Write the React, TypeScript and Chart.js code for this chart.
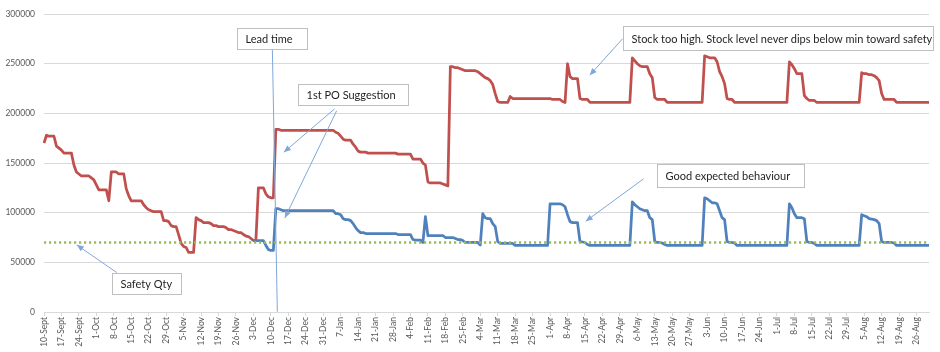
import React, { useEffect, useRef } from "react";
import { Chart, registerables } from "chart.js";

Chart.register(...registerables);

// ---- Calendar (one category per day, 10-Sept .. 31-Aug) ----
const MONTHS: [string, number][] = [
  ["Sept", 30], ["Oct", 31], ["Nov", 30], ["Dec", 31], ["Jan", 31], ["Feb", 28],
  ["Mar", 31], ["Apr", 30], ["May", 31], ["Jun", 30], ["Jul", 31], ["Aug", 31],
];
const FIRST_DAY = 10;
const categories: string[] = [];
MONTHS.forEach(([m, n], i) => {
  for (let d = i === 0 ? FIRST_DAY : 1; d <= n; d++) categories.push(`${d}-${m}`);
});

// Weekly tick labels shown on the axis
const tickLabels = [
  "10-Sept", "17-Sept", "24-Sept", "1-Oct", "8-Oct", "15-Oct", "22-Oct", "29-Oct",
  "5-Nov", "12-Nov", "19-Nov", "26-Nov", "3-Dec", "10-Dec", "17-Dec", "24-Dec",
  "31-Dec", "7-Jan", "14-Jan", "21-Jan", "28-Jan", "4-Feb", "11-Feb", "18-Feb",
  "25-Feb", "4-Mar", "11-Mar", "18-Mar", "25-Mar", "1-Apr", "8-Apr", "15-Apr",
  "22-Apr", "29-Apr", "6-May", "13-May", "20-May", "27-May", "3-Jun", "10-Jun",
  "17-Jun", "24-Jun", "1-Jul", "8-Jul", "15-Jul", "22-Jul", "29-Jul", "5-Aug",
  "12-Aug", "19-Aug", "26-Aug",
];
const TICK_EVERY = 7;

const yTicks = [0, 50000, 100000, 150000, 200000, 250000, 300000];

// ---- Red series: stock level (current behaviour), one value per day ----
const redStock = [
  170000, 178000, 177000, 177000, 177000, 167000, 165000,
  163000, 160000, 160000, 160000, 160000, 148000, 141000,
  139000, 137000, 137000, 137000, 137000, 135000, 133000,
  128000, 123000, 123000, 123000, 123000, 112000, 141000,
  141000, 141000, 139000, 139000, 139000, 124000, 117000,
  112000, 112000, 112000, 112000, 112000, 108000, 105000,
  103000, 102000, 101000, 101000, 101000, 101000, 92000,
  92000, 91000, 87000, 86000, 86000, 78000, 69000,
  66000, 65000, 60000, 60000, 60000, 95000, 93000,
  92000, 90000, 90000, 90000, 89000, 87000, 87000,
  86000, 86000, 86000, 85000, 83000, 83000, 82000,
  81000, 80000, 80000, 78000, 76500, 76000, 74000,
  72000, 72000, 125000, 125000, 125000, 119000, 116000,
  115000, 115000, 184000, 184000, 183000, 183000, 183000,
  183000, 183000, 183000, 183000, 183000, 183000, 183000,
  183000, 183000, 183000, 183000, 183000, 183000, 183000,
  183000, 183000, 183000, 183000, 183000, 181000, 180000,
  177000, 174000, 173000, 173000, 173000, 169000, 166000,
  162000, 161000, 161000, 161000, 160000, 160000, 160000,
  160000, 160000, 160000, 160000, 160000, 160000, 160000,
  160000, 160000, 159000, 159000, 159000, 159000, 159000,
  159000, 154000, 154000, 154000, 154000, 150000, 148000,
  131000, 130000, 130000, 130000, 130000, 130000, 129000,
  128000, 127000, 247000, 247000, 246000, 246000, 245000,
  244000, 243000, 243000, 243000, 243000, 243000, 242000,
  240000, 238000, 236000, 235000, 233000, 229000, 220000,
  212000, 211000, 211000, 211000, 211000, 217000, 215000,
  215000, 215000, 215000, 215000, 215000, 215000, 215000,
  215000, 215000, 215000, 215000, 215000, 215000, 215000,
  215000, 214000, 214000, 214000, 214000, 212000, 211000,
  250000, 237000, 235000, 235000, 235000, 215000, 214000,
  214000, 214000, 211000, 211000, 211000, 211000, 211000,
  211000, 211000, 211000, 211000, 211000, 211000, 211000,
  211000, 211000, 211000, 211000, 211000, 256000, 253000,
  250000, 248000, 247000, 247000, 247000, 240000, 236000,
  216000, 214000, 214000, 214000, 214000, 211000, 211000,
  211000, 211000, 211000, 211000, 211000, 211000, 211000,
  211000, 211000, 211000, 211000, 211000, 211000, 258000,
  257000, 256000, 256000, 256000, 252000, 242000, 237000,
  230000, 215000, 214000, 214000, 211000, 211000, 211000,
  211000, 211000, 211000, 211000, 211000, 211000, 211000,
  211000, 211000, 211000, 211000, 211000, 211000, 211000,
  211000, 211000, 211000, 211000, 211000, 252000, 249000,
  245000, 240000, 240000, 240000, 218000, 215000, 213000,
  213000, 213000, 211000, 211000, 211000, 211000, 211000,
  211000, 211000, 211000, 211000, 211000, 211000, 211000,
  211000, 211000, 211000, 211000, 211000, 211000, 241000,
  240000, 240000, 239000, 239000, 238000, 236000, 233000,
  220000, 214000, 214000, 214000, 214000, 214000, 211000,
  211000, 211000, 211000, 211000, 211000, 211000, 211000,
  211000, 211000, 211000, 211000, 211000, 211000,
];

// ---- Blue series: expected behaviour, starts on day index 84 (3-Dec) ----
const BLUE_START = 84;
const blueStock = [
  72000, 72000, 72000, 72000, 72000, 67000, 63000,
  62000, 62000, 104000, 104000, 103000, 102000, 102000,
  102000, 102000, 102000, 102000, 102000, 102000, 102000,
  102000, 102000, 102000, 102000, 102000, 102000, 102000,
  102000, 102000, 102000, 102000, 102000, 99000, 99000,
  98000, 94000, 93000, 93000, 92000, 89000, 85000,
  82000, 80000, 80000, 79000, 79000, 79000, 79000,
  79000, 79000, 79000, 79000, 79000, 79000, 79000,
  79000, 79000, 78000, 78000, 78000, 78000, 78000,
  78000, 73000, 72500, 72500, 72500, 70000, 96000,
  77000, 77000, 77000, 77000, 77000, 77000, 77000,
  75000, 75000, 75000, 75000, 74000, 73000, 73000,
  72000, 70000, 70000, 70000, 70000, 70000, 70000,
  67500, 99000, 95000, 94000, 94000, 89000, 86000,
  71000, 69000, 69000, 69000, 69000, 69000, 69000,
  67000, 67000, 67000, 67000, 67000, 67000, 67000,
  67000, 67000, 67000, 67000, 67000, 67000, 67000,
  109000, 109000, 109000, 109000, 109000, 108000, 106000,
  98000, 91000, 90000, 90000, 90000, 71000, 70500,
  70000, 68000, 67000, 67000, 67000, 67000, 67000,
  67000, 67000, 67000, 67000, 67000, 67000, 67000,
  67000, 67000, 67000, 67000, 67000, 111000, 108000,
  106000, 104000, 103000, 102000, 102000, 95000, 93000,
  71000, 70000, 70000, 69500, 68000, 67000, 67000,
  67000, 67000, 67000, 67000, 67000, 67000, 67000,
  67000, 67000, 67000, 67000, 67000, 67000, 115000,
  114000, 112000, 110000, 110000, 109000, 102000, 95000,
  93000, 71000, 70000, 70000, 69500, 67000, 67000,
  67000, 67000, 67000, 67000, 67000, 67000, 67000,
  67000, 67000, 67000, 67000, 67000, 67000, 67000,
  67000, 67000, 67000, 67000, 67000, 109000, 105000,
  99000, 95000, 95000, 95000, 94000, 71000, 70000,
  70000, 69000, 67000, 67000, 67000, 67000, 67000,
  67000, 67000, 67000, 67000, 67000, 67000, 67000,
  67000, 67000, 67000, 67000, 67000, 67000, 98000,
  97000, 96000, 94000, 93500, 93000, 92000, 89000,
  71000, 70000, 70000, 70000, 70000, 69500, 67000,
  67000, 67000, 67000, 67000, 67000, 67000, 67000,
  67000, 67000, 67000, 67000, 67000, 67000,
];

const SAFETY_QTY = 70000;

// ---- Annotations (positions in data units: day index / quantity) ----
const noteBoxes = [
  { text: "Lead time", x0: 77.4, x1: 105.5, y0: 286000, y1: 265000 },
  { text: "1st PO Suggestion", x0: 101.8, x1: 146, y0: 229500, y1: 208600 },
  { text: "Stock too high. Stock level never dips below min toward safety", x0: 232.1, x1: 356.5, y0: 288100, y1: 264200 },
  { text: "Good expected behaviour", x0: 246, x1: 304.7, y0: 149300, y1: 125500 },
  { text: "Safety Qty", x0: 27.4, x1: 55.1, y0: 39400, y1: 18600 },
];
const noteLines = [
  { from: [91.6, 265200], to: [93.6, 300], head: false },
  { from: [116.6, 204600], to: [96.2, 160900], head: true },
  { from: [117.4, 202700], to: [96.6, 94700], head: true },
  { from: [232.1, 275200], to: [218.9, 238400], head: true },
  { from: [240.5, 134100], to: [217.3, 91400], head: true },
  { from: [29.2, 39700], to: [13.1, 67600], head: true },
];

const RED = "#C0504D";
const BLUE = "#4F81BD";
const GREEN = "#9BBB59";
const GRID = "#D9D9D9";
const TICK_TEXT = "#595959";
const NOTE_LINE = "#7FA7D8";

const notesPlugin = {
  id: "notes",
  afterDatasetsDraw(chart: any) {
    const { ctx, scales } = chart;
    const X = (v: number) => scales.x.getPixelForValue(v);
    const Y = (v: number) => scales.y.getPixelForValue(v);
    ctx.save();
    ctx.strokeStyle = NOTE_LINE;
    ctx.fillStyle = NOTE_LINE;
    ctx.lineWidth = 1;
    for (const l of noteLines) {
      const x1 = X(l.from[0]), y1 = Y(l.from[1]), x2 = X(l.to[0]), y2 = Y(l.to[1]);
      ctx.beginPath();
      ctx.moveTo(x1, y1);
      ctx.lineTo(x2, y2);
      ctx.stroke();
      if (l.head) {
        const a = Math.atan2(y2 - y1, x2 - x1);
        const L = 7, W = 3;
        const bx = x2 - L * Math.cos(a), by = y2 - L * Math.sin(a);
        ctx.beginPath();
        ctx.moveTo(x2, y2);
        ctx.lineTo(bx - W * Math.sin(a), by + W * Math.cos(a));
        ctx.lineTo(bx + W * Math.sin(a), by - W * Math.cos(a));
        ctx.closePath();
        ctx.fill();
      }
    }
    ctx.font = "11px Lato";
    ctx.textBaseline = "middle";
    ctx.textAlign = "left";
    for (const b of noteBoxes) {
      const left = Math.round(X(b.x0)) + 0.5;
      const right = Math.round(X(b.x1)) + 0.5;
      const top = Math.round(Y(b.y0)) + 0.5;
      const bottom = Math.round(Y(b.y1)) + 0.5;
      ctx.fillStyle = "#FFFFFF";
      ctx.fillRect(left, top, right - left, bottom - top);
      ctx.strokeStyle = "#BFBFBF";
      ctx.lineWidth = 1;
      ctx.strokeRect(left, top, right - left, bottom - top);
      ctx.fillStyle = "#1F1F1F";
      ctx.fillText(b.text, left + 8, (top + bottom) / 2 + 0.5);
    }
    ctx.restore();
  },
};

export default function App() {
  const canvasRef = useRef<HTMLCanvasElement | null>(null);

  useEffect(() => {
    const canvas = canvasRef.current;
    if (!canvas) return;
    const blueData = categories.map((_, i) => (i < BLUE_START ? null : blueStock[i - BLUE_START]));
    const safetyData = categories.map(() => SAFETY_QTY);
    const chart = new Chart(canvas, {
      type: "line",
      data: {
        labels: categories,
        datasets: [
          {
            label: "Stock",
            data: redStock,
            borderColor: RED,
            backgroundColor: RED,
            borderWidth: 2.75,
            pointRadius: 0,
            tension: 0,
            borderJoinStyle: "round",
            order: 3,
          },
          {
            label: "Expected",
            data: blueData,
            borderColor: BLUE,
            backgroundColor: BLUE,
            borderWidth: 2.75,
            pointRadius: 0,
            tension: 0,
            borderJoinStyle: "round",
            spanGaps: false,
            order: 2,
          },
          {
            label: "Safety Qty",
            data: safetyData,
            borderColor: GREEN,
            backgroundColor: GREEN,
            borderWidth: 2.5,
            borderDash: [2.2, 2.8],
            pointRadius: 0,
            order: 1,
          },
        ],
      },
      options: {
        animation: false,
        responsive: false,
        devicePixelRatio: 1,
        events: [],
        layout: { padding: { left: 0, right: 11, top: 10, bottom: 0 } },
        plugins: { legend: { display: false }, tooltip: { enabled: false } },
        scales: {
          x: {
            type: "category",
            offset: false,
            afterBuildTicks: (axis: any) => {
              axis.ticks = axis.ticks.filter((t: any) => t.value % TICK_EVERY === 0);
            },
            afterFit: (axis: any) => {
              axis.height = 40;
            },
            ticks: {
              autoSkip: false,
              minRotation: 90,
              maxRotation: 90,
              padding: 1,
              color: TICK_TEXT,
              font: { family: "Lato", size: 8.5 },
              callback: (value: any) => tickLabels[Math.round(Number(value) / TICK_EVERY)] ?? "",
            },
            grid: {
              drawOnChartArea: false,
              drawTicks: true,
              tickLength: 4,
              color: GRID,
            },
            border: { display: true, color: GRID, width: 1 },
          },
          y: {
            min: yTicks[0],
            max: yTicks[yTicks.length - 1],
            afterBuildTicks: (axis: any) => {
              axis.ticks = yTicks.map((v) => ({ value: v }));
            },
            afterFit: (axis: any) => {
              axis.width = 44;
            },
            ticks: {
              padding: 9,
              color: TICK_TEXT,
              font: { family: "Lato", size: 8.5 },
              callback: (value: any) => String(value),
            },
            grid: { color: GRID, lineWidth: 1, drawTicks: false },
            border: { display: false },
          },
        },
      },
      plugins: [notesPlugin],
    });
    if ((document as any).fonts && (document as any).fonts.ready) {
      (document as any).fonts.ready.then(() => {
        try { chart.draw(); } catch (e) { /* ignore */ }
      });
    }
    return () => chart.destroy();
  }, []);

  return (
    <div style={{ position: "absolute", left: 0, top: 0, width: 940, height: 352, background: "#fff" }}>
      <canvas ref={canvasRef} width={940} height={352} style={{ display: "block", width: 940, height: 352 }} />
    </div>
  );
}
